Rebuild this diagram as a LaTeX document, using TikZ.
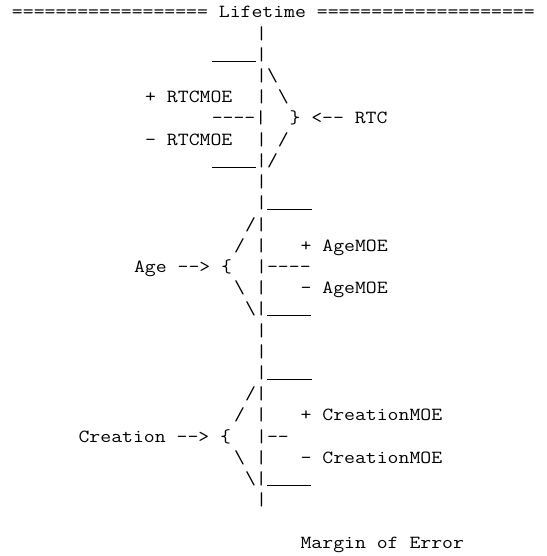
\documentclass[tikz,border=0pt]{standalone}
\usepackage{graphicx}
% one column is 11.1pt wide, one row 21.2pt high
\newcommand{\wide}[1]{\scalebox{1.143}[1]{#1}}
\newcommand{\undr}{\rule[-1pt]{38.85pt}{0.8pt}}
\tikzset{
  asc/.style={anchor=base west, inner sep=0pt, outer sep=0pt,
    font=\ttfamily\fontsize{18.5pt}{21.2pt}\selectfont}
}
\begin{document}
\begin{tikzpicture}[x=11.1pt, y=-21.2pt]
  \useasboundingbox (-12pt,18pt) rectangle (534pt,-538pt);
  % title
  \node[asc] (title) at (0,0) {\wide{================== Lifetime ====================}};
  % RTC block
  \node[asc] (sp1) at (22,1) {\wide{|}};
  \node[asc] (rtctop) at (18,2) {\wide{\undr|}};
  \node[asc] (rtcb1) at (22,3) {\wide{|\textbackslash}};
  \node[asc] (rtcplus) at (12,4) {\wide{+ RTCMOE}};
  \node[asc] (rtcb2) at (22,4) {\wide{| \textbackslash}};
  \node[asc] (rtcmid) at (18,5) {\wide{-\kern0pt-\kern0pt-\kern0pt-|}};
  \node[asc] (rtc) at (25,5) {\wide{\} <-\kern0pt- RTC}};
  \node[asc] (rtcminus) at (12,6) {\wide{- RTCMOE}};
  \node[asc] (rtcb3) at (22,6) {\wide{| /}};
  \node[asc] (rtcbot) at (18,7) {\wide{\undr|/}};
  % Age block
  \node[asc] (sp2) at (22,8) {\wide{|}};
  \node[asc] (agetop) at (22,9) {\wide{|\undr}};
  \node[asc] (ageb1) at (21,10) {\wide{/|}};
  \node[asc] (ageb2) at (20,11) {\wide{/ |}};
  \node[asc] (ageplus) at (26,11) {\wide{+ AgeMOE}};
  \node[asc] (age) at (11,12) {\wide{Age -\kern0pt-> \{}};
  \node[asc] (agemid) at (22,12) {\wide{|-\kern0pt-\kern0pt-\kern0pt-}};
  \node[asc] (ageb3) at (20,13) {\wide{\textbackslash{} |}};
  \node[asc] (ageminus) at (26,13) {\wide{- AgeMOE}};
  \node[asc] (agebot) at (21,14) {\wide{\textbackslash|\undr}};
  % Creation block
  \node[asc] (sp3) at (22,15) {\wide{|}};
  \node[asc] (sp4) at (22,16) {\wide{|}};
  \node[asc] (crtop) at (22,17) {\wide{|\undr}};
  \node[asc] (crb1) at (21,18) {\wide{/|}};
  \node[asc] (crb2) at (20,19) {\wide{/ |}};
  \node[asc] (crplus) at (26,19) {\wide{+ CreationMOE}};
  \node[asc] (creation) at (6,20) {\wide{Creation -\kern0pt-> \{}};
  \node[asc] (crmid) at (22,20) {\wide{|-\kern0pt-}};
  \node[asc] (crb3) at (20,21) {\wide{\textbackslash{} |}};
  \node[asc] (crminus) at (26,21) {\wide{- CreationMOE}};
  \node[asc] (crbot) at (21,22) {\wide{\textbackslash|\undr}};
  \node[asc] (sp5) at (22,23) {\wide{|}};
  % footer
  \node[asc] (moe) at (26,25) {\wide{Margin of Error}};
\end{tikzpicture}
\end{document}
